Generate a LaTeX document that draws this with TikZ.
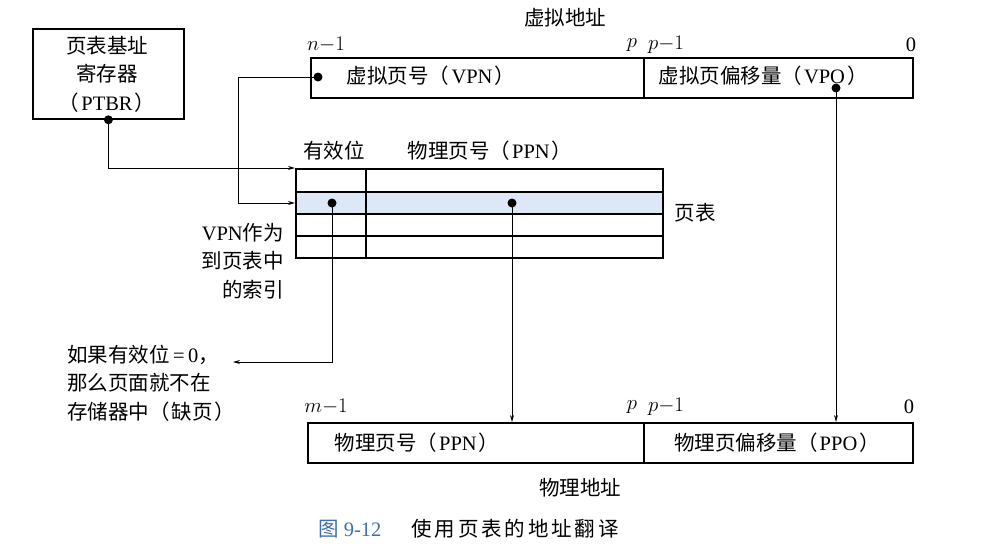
\documentclass[tikz,border=0pt]{standalone}
\usepackage{fontspec}
\setmainfont{Liberation Serif}
\newfontfamily\cjk{Noto Sans CJK SC}
\newfontfamily\cjkls[LetterSpace=14]{Noto Sans CJK SC}
\usetikzlibrary{arrows.meta}
\definecolor{rowblue}{HTML}{DCE8F6}
\definecolor{capblue}{HTML}{3F6FB5}
\newcommand{\lp}{{\cjk （}\hspace{2pt}}
\newcommand{\rp}{\hspace{2pt}{\cjk ）}}
\tikzset{
  box/.style={draw, line width=1.8pt, rectangle, inner sep=0pt, anchor=north west},
  lbl/.style={inner sep=0pt, font=\fontsize{20.5}{28.5}\selectfont},
  arr/.style={line width=0.9pt, -{Stealth[length=7pt,width=4pt]}},
  dotc/.style={circle, fill=black, inner sep=0pt, minimum size=9pt},
}
\begin{document}
\begin{tikzpicture}[x=1pt,y=-1pt]
\useasboundingbox[fill=white] (0,0) rectangle (982,555);

% PTBR box
\node[box, minimum width=151pt, minimum height=90pt] (ptbr) at (32,28) {};
\node[lbl, align=center] (ptbrt) at (107,74) {{\cjk 页表基址}\\{\cjk 寄存器}\\\lp PTBR\rp};

% virtual address
\node[lbl] (vatitle) at (565,18) {\cjk 虚拟地址};
\node[box, minimum width=333pt, minimum height=40pt] (vpn) at (310,57) {};
\node[box, minimum width=269pt, minimum height=40pt] (vpo) at (643,57) {};
\node[lbl] (vpnt) at (431,76) {{\cjk 虚拟页号}\lp VPN\rp};
\node[lbl] (vpot) at (763,76) {{\cjk 虚拟页偏移量}\lp VPO\rp};
\node[lbl] (vn1) at (326,45) {$n{-}1$};
\node[lbl] (vp) at (632,45) {$p$};
\node[lbl] (vp1) at (666,45) {$p{-}1$};
\node[lbl] (v0) at (911,45) {0};

% page table
\fill[rowblue] (295,192) rectangle (662,214);
\node[box, minimum width=367pt, minimum height=89pt] (tbl) at (295,168) {};
\coordinate (r1w) at (295,192); \coordinate (r1e) at (662,192);
\coordinate (r2w) at (295,214); \coordinate (r2e) at (662,214);
\coordinate (r3w) at (295,236); \coordinate (r3e) at (662,236);
\coordinate (colt) at (366,168); \coordinate (colb) at (366,257);
\coordinate (hitw) at (295,203);
\draw[line width=1.8pt] (r1w) -- (r1e) (r2w) -- (r2e) (r3w) -- (r3e) (colt) -- (colb);
\node[lbl] (validt) at (334,151) {\cjk 有效位};
\node[lbl] (ppnt) at (490,151) {{\cjk 物理页号}\lp PPN\rp};
\node[lbl] (pttitle) at (695,213) {\cjk 页表};
\node[lbl, align=right, anchor=east] (idx) at (284,261) {VPN{\cjk 作为}\\{\cjk 到页表中}\\{\cjk 的索引}};

% note
\node[lbl, align=left, anchor=west] (note) at (67,383) {{\cjk 如果有效位}\,=\,0{\cjk ，}\\{\cjk 那么页面就不在}\\{\cjk 存储器中}\lp{\cjk 缺页}\rp};

% physical address
\node[box, minimum width=336pt, minimum height=40pt] (ppn) at (307,422) {};
\node[box, minimum width=269pt, minimum height=40pt] (ppo) at (643,422) {};
\node[lbl] (ppnbt) at (417,443) {{\cjk 物理页号}\lp PPN\rp};
\node[lbl] (ppot) at (777,443) {{\cjk 物理页偏移量}\lp PPO\rp};
\node[lbl] (pm1) at (326,407) {$m{-}1$};
\node[lbl] (pp) at (632,407) {$p$};
\node[lbl] (pp1) at (666,407) {$p{-}1$};
\node[lbl] (p0) at (909,407) {0};
\node[lbl] (patitle) at (580,488) {\cjk 物理地址};

% caption
\node[lbl, anchor=west] (cap) at (318,529) {{\color{capblue}{\cjk 图} 9-12}\hspace{30pt}{\cjkls 使用页表的地址翻译}};

% dots
\node[dotc] (dptbr) at (ptbr.south) {};
\node[dotc] (dvpn) at (318,77) {};
\node[dotc] (dvpo) at (836,88) {};
\node[dotc] (dvalid) at (332,203) {};
\node[dotc] (dppn) at (512,203) {};

% connectors
\coordinate (bend) at (238,77);
\coordinate (faultend) at (233,362);
\draw[arr] (dptbr.center) |- (tbl.north west);
\draw[arr] (dvpn.center) -- (bend) |- (hitw);
\draw[arr] (dvalid.center) |- (faultend);
\draw[arr] (dppn.center) -- (dppn.center |- ppn.north);
\draw[arr] (dvpo.center) -- (dvpo.center |- ppo.north);
\end{tikzpicture}
\end{document}
